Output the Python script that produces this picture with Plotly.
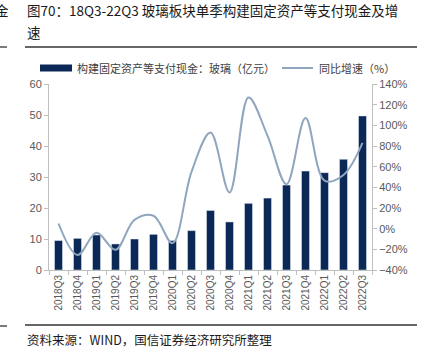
import plotly.graph_objects as go

categories = ["2018Q3", "2018Q4", "2019Q1", "2019Q2", "2019Q3", "2019Q4", "2020Q1", "2020Q2",
              "2020Q3", "2020Q4", "2021Q1", "2021Q2", "2021Q3", "2021Q4", "2022Q1", "2022Q2", "2022Q3"]
cash_values = [9.5, 10.2, 11.3, 8.4, 10.0, 11.5, 9.5, 12.7, 19.2, 15.5, 21.5, 23.2, 27.4, 31.9, 31.4, 35.7, 49.7]
yoy_growth = [5, -25.5, -4, -20.5, 8.5, 12.5, -14, 55, 93, 35, 127, 90, 43, 107, 46.5, 52, 83]

bar_name = "构建固定资产等支付现金：玻璃（亿元）"
line_name = "同比增速（%）"
title_line1 = "图70：18Q3-22Q3 玻璃板块单季构建固定资产等支付现金及增"
title_line2 = "速"
source_text = "资料来源：WIND，国信证券经济研究所整理"

W, H = 421, 361
L, R, T, B = 49, 49, 84, 91
pw, ph = W - L - R, H - T - B

def px(x):
    return (x - L) / pw

def py(y):
    return (H - B - y) / ph

bar_color = "#0b2856"
line_color = "#8fa6be"
tick_font = dict(family="Liberation Sans, Arial, Noto Sans CJK SC", size=11, color="#595959")
cjk = "Noto Sans CJK SC, Liberation Sans"

fig = go.Figure()
fig.add_trace(go.Bar(x=categories, y=cash_values, name=bar_name, marker_color=bar_color,
                     width=0.42, yaxis="y"))
fig.add_trace(go.Scatter(x=categories, y=yoy_growth, name=line_name, mode="lines",
                         line=dict(color=line_color, width=2, shape="spline", smoothing=1.0),
                         yaxis="y2"))

fig.update_layout(
    width=W, height=H,
    margin=dict(l=L, r=R, t=T, b=B, autoexpand=False),
    plot_bgcolor="white", paper_bgcolor="white",
    showlegend=False,
    xaxis=dict(type="category", tickangle=-90, automargin=False,
               tickfont=dict(family="Liberation Sans, Arial", size=10, color="#595959"),
               showline=True, linecolor="#bfbfbf", linewidth=1, ticks="outside", ticklen=4,
               tickcolor="#bfbfbf", tickson="boundaries", showgrid=False, zeroline=False),
    yaxis=dict(range=[0, 60], dtick=10, tickfont=tick_font, showline=True, linecolor="#bfbfbf",
               linewidth=1, ticks="outside", ticklen=4, tickcolor="#bfbfbf", showgrid=False,
               zeroline=False, automargin=False),
    yaxis2=dict(range=[-40, 140], dtick=20, ticksuffix="%", overlaying="y", side="right",
                tickfont=tick_font, showline=True, linecolor="#bfbfbf", linewidth=1,
                ticks="outside", ticklen=4, tickcolor="#bfbfbf", showgrid=False, zeroline=False,
                automargin=False),
)

annotations = [
    dict(text=title_line1, x=px(25), y=py(10), xanchor="left", yanchor="middle",
         font=dict(family=cjk, size=13.5, color="#1a1a1a")),
    dict(text=title_line2, x=px(25), y=py(32), xanchor="left", yanchor="middle",
         font=dict(family=cjk, size=13.5, color="#1a1a1a")),
    dict(text="金", x=px(-7), y=py(10), xanchor="left", yanchor="middle",
         font=dict(family=cjk, size=13.5, color="#1a1a1a")),
    dict(text=source_text, x=px(25), y=py(339), xanchor="left", yanchor="middle",
         font=dict(family=cjk, size=12.5, color="#1a1a1a")),
    dict(text=bar_name, x=px(75), y=py(68), xanchor="left", yanchor="middle",
         font=dict(family=cjk, size=11, color="#404040")),
    dict(text=line_name, x=px(317), y=py(68), xanchor="left", yanchor="middle",
         font=dict(family=cjk, size=11, color="#404040")),
]
for a in annotations:
    a.update(xref="paper", yref="paper", showarrow=False)
fig.update_layout(annotations=annotations)

shapes = [
    dict(type="line", x0=px(25), x1=px(417), y0=py(47), y1=py(47),
         line=dict(color="#333333", width=1.3)),
    dict(type="line", x0=px(0), x1=px(7), y0=py(47), y1=py(47),
         line=dict(color="#333333", width=1.3)),
    dict(type="line", x0=px(25), x1=px(417), y0=py(325), y1=py(325),
         line=dict(color="#333333", width=1.3)),
    dict(type="line", x0=px(0), x1=px(7), y0=py(326), y1=py(326),
         line=dict(color="#333333", width=1.3)),
    dict(type="rect", x0=px(40), x1=px(72), y0=py(71.5), y1=py(64.5),
         fillcolor=bar_color, line=dict(width=0)),
    dict(type="line", x0=px(282), x1=px(313), y0=py(68), y1=py(68),
         line=dict(color=line_color, width=2)),
]
for s in shapes:
    s.update(xref="paper", yref="paper")
fig.update_layout(shapes=shapes)

fig.write_html("out.html", config={"displayModeBar": False},
               post_script="document.body.style.margin='0';document.body.style.overflow='hidden';")
